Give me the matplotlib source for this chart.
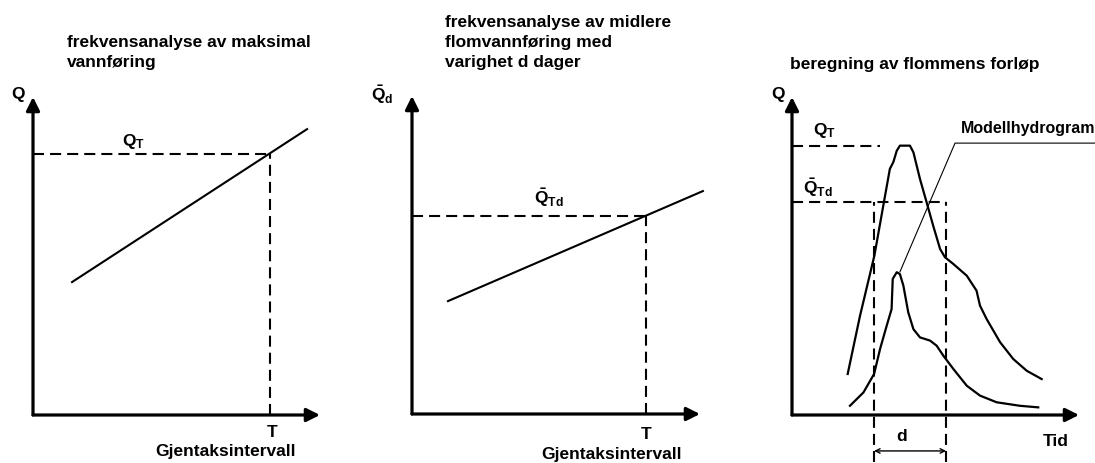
import matplotlib
matplotlib.use("Agg")
import matplotlib.pyplot as plt

plt.rcParams['font.family'] = ['Liberation Sans', 'DejaVu Sans']
plt.rcParams['font.weight'] = 'bold'
plt.rcParams['mathtext.fontset'] = 'custom'
plt.rcParams['mathtext.rm'] = 'Liberation Sans:bold'
plt.rcParams['mathtext.it'] = 'Liberation Sans:bold:italic'
plt.rcParams['mathtext.bf'] = 'Liberation Sans:bold'

W, H = 1095, 464

# panel 1: frequency line for max discharge
p1_line_x = [0.136, 0.955]
p1_line_y = [0.418, 0.899]
p1_T, p1_QT = 0.826, 0.821

# panel 2: frequency line for mean flood discharge over d days
p2_line_x = [0.125, 1.01]
p2_line_y = [0.355, 0.701]
p2_T, p2_QTd = 0.8125, 0.623

# panel 3: design flood hydrograph and model hydrogram
flood_x = [0.194, 0.237, 0.287, 0.318, 0.341, 0.353, 0.365, 0.376, 0.411, 0.423,
           0.446, 0.469, 0.492, 0.516, 0.533, 0.562, 0.609, 0.643, 0.655, 0.678,
           0.725, 0.771, 0.818, 0.870]
flood_y = [0.129, 0.312, 0.501, 0.658, 0.774, 0.795, 0.831, 0.847, 0.847, 0.826,
           0.742, 0.669, 0.595, 0.522, 0.496, 0.475, 0.438, 0.391, 0.344, 0.302,
           0.229, 0.176, 0.139, 0.113]
model_x = [0.202, 0.249, 0.286, 0.307, 0.330, 0.347, 0.351, 0.365, 0.376, 0.388,
           0.405, 0.423, 0.446, 0.481, 0.504, 0.527, 0.562, 0.609, 0.655, 0.713,
           0.794, 0.858]
model_y = [0.029, 0.071, 0.129, 0.208, 0.281, 0.333, 0.428, 0.449, 0.443, 0.407,
           0.323, 0.270, 0.244, 0.234, 0.218, 0.187, 0.145, 0.092, 0.061, 0.040,
           0.029, 0.024]
p3_QT, p3_QT_end = 0.846, 0.307
p3_QTd = 0.670
p3_d = [0.286, 0.537]
pointer_x = [1.056, 0.568, 0.376]
pointer_y = [0.855, 0.855, 0.450]


def px(x, y):
    return x / W, 1 - y / H


fig = plt.figure(figsize=(W / 100, H / 100), dpi=100)

dash = (0, (5.3, 2.9))
fs = 12.5


def make_axes(x0, y0, x1, y1):
    ax = fig.add_axes([x0 / W, 1 - y0 / H, (x1 - x0) / W, (y0 - y1) / H])
    ax.set_xlim(0, 1)
    ax.set_ylim(0, 1)
    ax.axis('off')
    arr = dict(arrowstyle='-|>', lw=2.3, color='black', mutation_scale=20,
               shrinkA=0, shrinkB=0)
    ax.annotate('', xy=(1, 0), xytext=(0, 0), arrowprops=arr, annotation_clip=False)
    ax.annotate('', xy=(0, 1), xytext=(0, 0), arrowprops=arr, annotation_clip=False)
    return ax


# ---- panel 1
ax1 = make_axes(33, 416, 320, 98)
ax1.plot(p1_line_x, p1_line_y, color='black', lw=1.5, clip_on=False)
ax1.plot([0, p1_T], [p1_QT, p1_QT], color='black', lw=1.5, ls=dash, clip_on=False)
ax1.plot([p1_T, p1_T], [0, p1_QT], color='black', lw=1.5, ls=dash, clip_on=False)

# ---- panel 2
ax2 = make_axes(412, 415, 700, 97)
ax2.plot(p2_line_x, p2_line_y, color='black', lw=1.5, clip_on=False)
ax2.plot([0, p2_T], [p2_QTd, p2_QTd], color='black', lw=1.5, ls=dash, clip_on=False)
ax2.plot([p2_T, p2_T], [0, p2_QTd], color='black', lw=1.5, ls=dash, clip_on=False)

# ---- panel 3
ax3 = make_axes(792, 416, 1079, 98)
ax3.plot(flood_x, flood_y, color='black', lw=1.6, clip_on=False)
ax3.plot(model_x, model_y, color='black', lw=1.6, clip_on=False)
ax3.plot([0, p3_QT_end], [p3_QT, p3_QT], color='black', lw=1.5, ls=dash, clip_on=False)
ax3.plot([0, p3_d[1]], [p3_QTd, p3_QTd], color='black', lw=1.5, ls=dash, clip_on=False)
for xd in p3_d:
    ax3.plot([xd, xd], [-0.148, p3_QTd], color='black', lw=1.5, ls=dash, clip_on=False)
ax3.annotate('', xy=(p3_d[1], -0.113), xytext=(p3_d[0], -0.113),
             arrowprops=dict(arrowstyle='<->', lw=1.0, color='black',
                             mutation_scale=8, shrinkA=0, shrinkB=0),
             annotation_clip=False)
ax3.plot(pointer_x, pointer_y, color='black', lw=0.8, clip_on=False)

# ---- texts
def t(x, y, s, ha='left', va='center', size=fs):
    fig.text(*px(x, y), s, ha=ha, va=va, fontsize=size, color='black')


t(67, 43, 'frekvensanalyse av maksimal')
t(67, 63, 'vannføring')
t(445, 22, 'frekvensanalyse av midlere')
t(445, 43, 'flomvannføring med')
t(445, 63, 'varighet d dager')
t(790, 65, 'beregning av flommens forløp')

t(18, 94, 'Q', ha='center')
t(133, 142, r'$\mathrm{Q}_\mathrm{T}$', ha='center')
t(272, 433, 'T', ha='center')
t(226, 452, 'Gjentaksintervall', ha='center')

t(382, 95, r'$\bar{\mathrm{Q}}_\mathrm{d}$', ha='center')
t(549, 198, r'$\bar{\mathrm{Q}}_\mathrm{Td}$', ha='center')
t(646, 435, 'T', ha='center')
t(611, 455, 'Gjentaksintervall', ha='center')

t(778, 94, 'Q', ha='center')
t(824, 130, r'$\mathrm{Q}_\mathrm{T}$', ha='center')
t(818, 188, r'$\bar{\mathrm{Q}}_\mathrm{Td}$', ha='center')
t(1028, 128, 'Modellhydrogram', ha='center', size=11.5)
t(902, 437, 'd', ha='center')
t(1056, 441, 'Tid', ha='center')

fig.savefig('out.png', dpi=100)
